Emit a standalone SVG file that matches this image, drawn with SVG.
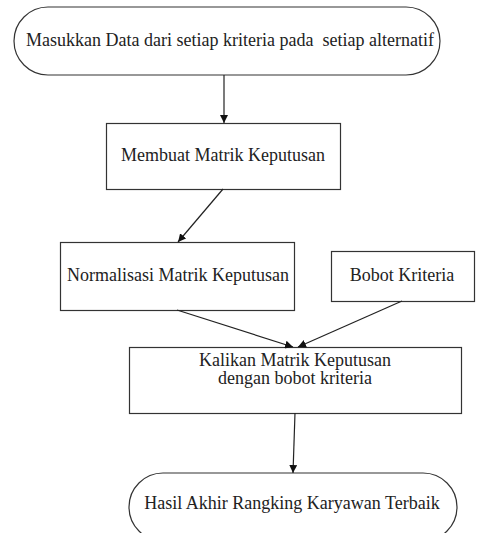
<svg xmlns="http://www.w3.org/2000/svg" width="477" height="533" viewBox="0 0 477 533">
<defs>
<style>
.n{fill:#fff;stroke:#333;stroke-width:1.2}
.t{font-family:'Liberation Serif','DejaVu Serif',serif;font-size:18px;fill:#222;text-anchor:middle}
.c{stroke:#222;stroke-width:1.2;fill:none}
</style>
<marker id="ah" viewBox="0 0 10 10" refX="10" refY="5" markerWidth="8" markerHeight="8" markerUnits="userSpaceOnUse" orient="auto">
<path d="M0,0 L10,5 L0,10 z" fill="#111"/>
</marker>
</defs>
<rect width="477" height="533" fill="#fff"/>
<g id="start">
<rect class="n" x="14" y="7" width="426" height="68" rx="34" ry="34"/>
<text class="t" x="230" y="46" xml:space="preserve">Masukkan Data dari setiap kriteria pada  setiap alternatif</text>
</g>
<g id="membuat">
<rect class="n" x="106.5" y="123.5" width="234" height="66"/>
<text class="t" x="223" y="161">Membuat Matrik Keputusan</text>
</g>
<g id="normalisasi">
<rect class="n" x="60.5" y="242.5" width="234" height="68"/>
<text class="t" x="178" y="281">Normalisasi Matrik Keputusan</text>
</g>
<g id="bobot">
<rect class="n" x="331.5" y="251.5" width="143" height="50"/>
<text class="t" x="402" y="281">Bobot Kriteria</text>
</g>
<g id="kalikan">
<rect class="n" x="129.5" y="347.5" width="332" height="66"/>
<text class="t" x="295" y="365.5">Kalikan Matrik Keputusan</text>
<text class="t" x="295" y="384">dengan bobot kriteria</text>
</g>
<g id="hasil">
<rect class="n" x="129" y="473" width="328" height="68" rx="34" ry="34"/>
<text class="t" x="292" y="509">Hasil Akhir Rangking Karyawan Terbaik</text>
</g>
<g id="connectors">
<line class="c" x1="224" y1="75" x2="224" y2="123" marker-end="url(#ah)"/>
<line class="c" x1="223" y1="189" x2="178" y2="242" marker-end="url(#ah)"/>
<line class="c" x1="177" y1="310" x2="293" y2="347" marker-end="url(#ah)"/>
<line class="c" x1="402" y1="301" x2="298" y2="347" marker-end="url(#ah)"/>
<line class="c" x1="295" y1="413" x2="293" y2="473" marker-end="url(#ah)"/>
</g>
</svg>
